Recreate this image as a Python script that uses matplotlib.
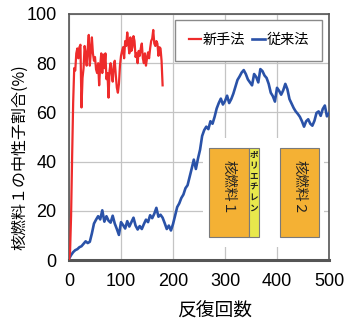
import numpy as np
import matplotlib
matplotlib.use("Agg")
import matplotlib.pyplot as plt
from matplotlib import font_manager
from matplotlib.patches import Rectangle

# new method (red): sampled every 2 iterations
new_iter = np.arange(0, 181, 2)
new_vals = [0, 3, 18, 42, 64, 78, 77, 84, 86, 82,
            86.5, 87.5, 62, 74, 78, 87, 84, 79, 86, 91.5,
            79, 85, 90.5, 84, 81, 82.5, 77.5, 76, 80, 71,
            79, 84, 76, 83.5, 78, 84, 73.5, 76, 66, 77,
            80, 76, 72.5, 79, 81, 75, 70, 68, 71.5, 79,
            83, 85, 86.5, 82, 89, 87, 92.5, 88, 84, 90.5,
            85, 86.5, 91, 89, 82.5, 84, 80, 85, 83, 86,
            88, 82, 80, 84, 79, 82, 84.4, 82, 86, 89,
            90, 93.5, 88, 87, 89, 88, 83, 86.5, 86, 81,
            71]

# conventional method (blue): sampled every 4 iterations
old_iter = np.arange(0, 501, 4)
old_vals = [0.5, 2.0, 3.2, 4.0, 4.4, 5.2, 5.6, 6.6, 7.6, 6.9,
            7.4, 10.8, 14.8, 16.4, 17.8, 16.5, 20.2, 15.6, 17.8, 16.0,
            15.2, 18.0, 14.8, 12.6, 10.2, 15.4, 14.2, 12.8, 15.8, 13.6,
            15.4, 17.2, 14.0, 12.4, 13.8, 12.6, 14.6, 16.4, 15.4, 18.2,
            17.0, 18.8, 21.2, 17.6, 18.4, 17.2, 15.0, 12.6, 14.0, 12.0,
            14.6, 18.0, 21.5, 23.0, 25.2, 26.6, 29.2, 30.4, 33.8, 37.2,
            40.8, 37.0, 41.2, 44.8, 50.4, 52.8, 54.2, 53.2, 56.4, 55.4,
            58.2, 61.6, 63.8, 65.6, 63.2, 64.6, 66.8, 63.8, 65.4, 67.6,
            70.4, 73.2, 74.6, 76.2, 77.2, 75.6, 73.4, 72.2, 71.0, 75.6,
            74.4, 72.2, 77.6, 76.8, 75.0, 74.0, 71.6, 68.0, 66.6, 64.4,
            70.0, 68.8, 67.2, 69.0, 71.6, 69.4, 65.4, 63.6, 61.8, 60.4,
            59.4, 58.2, 56.4, 54.2, 56.4, 57.2, 55.4, 54.6, 56.6, 59.8,
            60.4, 58.6, 61.4, 62.8, 58.4, 59.6]

series_names = ["新手法", "従来法"]
x_ticks = [0, 100, 200, 300, 400, 500]
y_ticks = [0, 20, 40, 60, 80, 100]

jp = "Noto Sans CJK JP"
installed = {f.name for f in font_manager.fontManager.ttflist}
num_font = "Liberation Sans Narrow" if "Liberation Sans Narrow" in installed else "Liberation Sans"

fig = plt.figure(figsize=(3.44, 3.24), dpi=100)
ax = fig.add_axes([0.2006, 0.1975, 0.7558, 0.7593])

ax.set_xlim(0, 500)
ax.set_ylim(0, 100)
ax.set_xticks(x_ticks)
ax.set_yticks(y_ticks)
ax.grid(True, color="#c4c4c4", linewidth=0.9, zorder=0)
ax.set_axisbelow(True)
ax.tick_params(length=0, pad=9, labelsize=13)
for lab in ax.get_xticklabels() + ax.get_yticklabels():
    lab.set_fontfamily(num_font)

for side in ["top", "right", "left"]:
    ax.spines[side].set_color("#555555")
    ax.spines[side].set_linewidth(1.2)
ax.spines["bottom"].set_color("#555555")
ax.spines["bottom"].set_linewidth(2.2)

# inset: fuel / polyethylene / fuel layout on a white panel
ax.add_patch(Rectangle((257, 5.4), 234, 44.2, facecolor="white",
                       edgecolor="none", zorder=1))
ax.add_patch(Rectangle((270, 9.5), 75.5, 36.2, facecolor="#F4B134",
                       edgecolor="#7a7a7a", linewidth=0.8, zorder=2))
ax.add_patch(Rectangle((345.5, 9.5), 20.5, 36.2, facecolor="#E8E84C",
                       edgecolor="#7a7a7a", linewidth=0.8, zorder=2))
ax.add_patch(Rectangle((406.4, 9.5), 73.6, 36.2, facecolor="#F4B134",
                       edgecolor="#7a7a7a", linewidth=0.8, zorder=2))
ax.text(307.7, 29.5, "核燃料１", rotation=-90, ha="center", va="center",
        fontsize=10, family=jp, color="#222222", zorder=3)
ax.text(443.2, 29.5, "核燃料２", rotation=-90, ha="center", va="center",
        fontsize=10, family=jp, color="#222222", zorder=3)
ax.text(355.7, 31.8, "\n".join("ポリエチレン"), ha="center", va="center",
        fontsize=6.2, family=jp, fontweight="bold", linespacing=1.22,
        color="#222222", zorder=3)

ax.plot(old_iter, old_vals, color="#2A52A8", linewidth=1.9,
        label=series_names[1], zorder=4)
ax.plot(new_iter, new_vals, color="#EE2B2B", linewidth=1.6,
        label=series_names[0], zorder=5)

handles, labels = ax.get_legend_handles_labels()
leg = ax.legend(handles[::-1], labels[::-1], ncol=2, loc="upper left",
                bbox_to_anchor=(0.408, 0.976), borderaxespad=0,
                prop={"family": jp, "size": 10.2}, handlelength=0.9,
                handletextpad=0.1, columnspacing=0.5, fancybox=False,
                framealpha=1, edgecolor="#8a8a8a", borderpad=0.95)
leg.get_frame().set_linewidth(1.0)
leg.set_zorder(6)

ax.set_ylabel("核燃料１の中性子割合(%)", family=jp, fontsize=11.5)
ax.yaxis.set_label_coords(-0.158, 0.42)
ax.set_xlabel("反復回数", family=jp, fontsize=13.5)
ax.xaxis.set_label_coords(0.56, -0.165)

fig.savefig("out.png", dpi=100)
